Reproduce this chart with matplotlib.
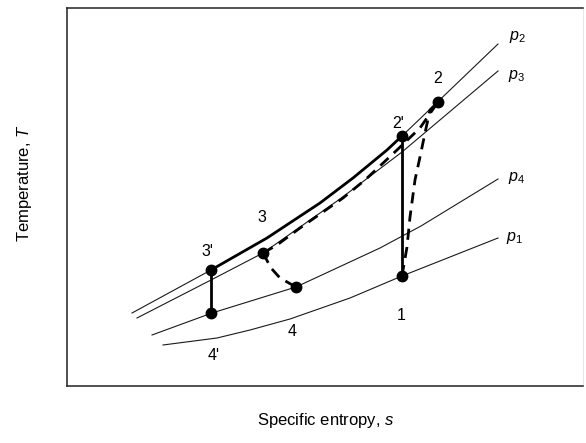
import matplotlib
matplotlib.use("Agg")
import matplotlib.pyplot as plt

plt.rcParams['font.family'] = ['Liberation Sans', 'DejaVu Sans']
plt.rcParams['mathtext.fontset'] = 'custom'
plt.rcParams['mathtext.rm'] = 'Liberation Sans'
plt.rcParams['mathtext.it'] = 'Liberation Sans:italic'

# isobars (s, T), arbitrary units
p2_s = [65, 144, 200, 253, 286, 320, 335, 431]
p2_T = [73, 116, 148, 183, 208, 236, 250, 342]
p3_s = [70, 144, 196, 273, 335, 431]
p3_T = [68, 106, 133, 187, 234, 315]
p4_s = [85, 145, 229, 313, 354, 431]
p4_T = [51, 73, 99, 138, 160, 207]
p1_s = [96, 150, 183, 223, 283, 335, 431]
p1_T = [41, 48, 56, 67, 88, 110, 148]

# cycle states
states = {
    "1": (335, 110),
    "2": (371, 284),
    "2'": (335, 250),
    "3": (196, 133),
    "3'": (144, 116),
    "4": (229, 99),
    "4'": (144, 73),
}

# actual compression 1 -> 2 and the dashed paths 3 -> 2, 3 -> 4
comp_s = [335, 340, 343, 348, 353, 358, 363, 371]
comp_T = [110, 139, 169, 206, 229, 253, 276, 284]
heat_s = [196, 210, 233, 276, 298, 330, 353, 371]
heat_T = [133, 141, 158, 188, 206, 236, 258, 284]
exp_s = [196, 204, 213, 229]
exp_T = [133, 118, 108, 99]

fig = plt.figure(figsize=(5.86, 4.43), dpi=100)
ax = fig.add_axes([67 / 586, 57 / 443, 516 / 586, 378 / 443])
ax.set_xlim(0, 516)
ax.set_ylim(0, 378)
ax.set_xticks([])
ax.set_yticks([])
for side in ['left', 'top', 'bottom']:
    ax.spines[side].set_linewidth(1.1)
    ax.spines[side].set_color('#222222')
ax.spines['right'].set_linewidth(0.5)
ax.spines['right'].set_color('#dddddd')

thin = dict(color='#1a1a1a', lw=0.8)
for s, T in [(p2_s, p2_T), (p3_s, p3_T), (p4_s, p4_T), (p1_s, p1_T)]:
    ax.plot(s, T, **thin)

# ideal path: 3' -> 2' along p2, vertical 1 -> 2' and 3' -> 4'
i0, i1 = p2_s.index(states["3'"][0]), p2_s.index(states["2'"][0])
ax.plot(p2_s[i0:i1 + 1], p2_T[i0:i1 + 1], color='black', lw=2.0, solid_capstyle='round')
ax.plot([states["1"][0], states["2'"][0]], [states["1"][1], states["2'"][1]], color='black', lw=2.0)
ax.plot([states["3'"][0], states["4'"][0]], [states["3'"][1], states["4'"][1]], color='black', lw=2.0)

for s, T in [(comp_s, comp_T), (heat_s, heat_T), (exp_s, exp_T)]:
    ax.plot(s, T, color='black', lw=2.0, dashes=(4, 2.6))

for name, (s, T) in states.items():
    ax.plot(s, T, 'o', color='black', ms=7.5)

offsets = {"1": (-1, -39), "2": (0, 24), "2'": (-4, 13), "3": (-1, 36),
           "3'": (-4, 19), "4": (-4, -45), "4'": (3, -42)}
for name, off in offsets.items():
    ax.annotate(name, states[name], xytext=off, textcoords='offset pixels',
                ha='center', va='center', fontsize=11.5)

for lab, s, T, off in [("$p_2$", p2_s, p2_T, (19, 7)), ("$p_3$", p3_s, p3_T, (19, -5)),
                       ("$p_4$", p4_s, p4_T, (19, 1)), ("$p_1$", p1_s, p1_T, (17, 0))]:
    ax.annotate(lab, (s[-1], T[-1]), xytext=off, textcoords='offset pixels',
                ha='center', va='center', fontsize=11.5)

fig.text(25 / 586, 1 - 183 / 443, "Temperature, $T$", rotation=90,
         ha='center', va='center', fontsize=12)
fig.text(326 / 586, 1 - 421 / 443, "Specific entropy, $s$",
         ha='center', va='center', fontsize=12)

fig.savefig("out.png", dpi=100)
